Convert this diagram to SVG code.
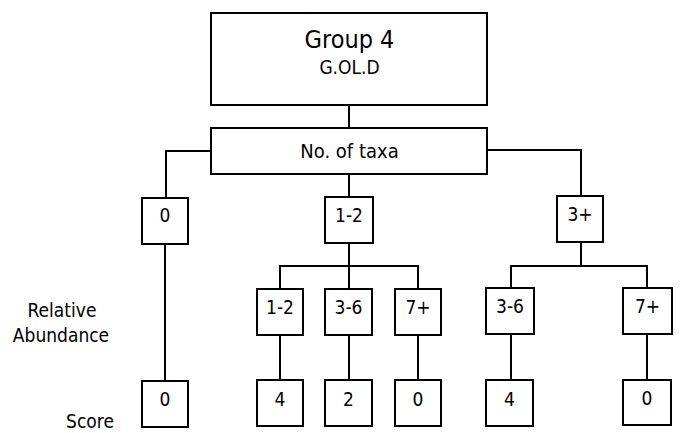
<svg xmlns="http://www.w3.org/2000/svg" width="681" height="433" viewBox="0 0 681 433">
<style>
.b{fill:#fff;stroke:#000;stroke-width:2}
.t{font-family:'DejaVu Sans Condensed','DejaVu Sans',sans-serif;font-stretch:condensed;fill:#000;text-anchor:middle;font-size:19px}
.c{fill:none;stroke:#000;stroke-width:2}
</style>
<rect width="681" height="433" fill="#fff"/>
<g id="connectors">
<path class="c" d="M349,105V128"/>
<path class="c" d="M211,151H166V198"/>
<path class="c" d="M165,244V381"/>
<path class="c" d="M349,174V197"/>
<path class="c" d="M349,243V289M280,289V266H418V289"/>
<path class="c" d="M487,150H581V196"/>
<path class="c" d="M581,242V266M511,288V266H647V288"/>
<path class="c" d="M280,335V380M349,335V380M418,335V380M511,334V380M647,334V380"/>
</g>
<g id="group4"><rect class="b" x="211" y="13" width="276" height="92"/><text class="t" x="349.5" y="48" style="font-size:25px">Group 4</text><text class="t" x="349.5" y="74" style="font-size:19px">G.OL.D</text></g>
<g id="taxa"><rect class="b" x="211" y="128" width="276" height="46"/><text class="t" x="349.5" y="158" style="font-size:20px">No. of taxa</text></g>
<g id="n0"><rect class="b" x="142" y="198" width="46" height="46"/><text class="t" x="165" y="222">0</text></g>
<g id="n12"><rect class="b" x="325" y="197" width="48" height="46"/><text class="t" x="349" y="222">1-2</text></g>
<g id="n3p"><rect class="b" x="557" y="196" width="46" height="46"/><text class="t" x="580" y="221">3+</text></g>
<g id="a12"><rect class="b" x="257" y="289" width="46" height="46"/><text class="t" x="280" y="314">1-2</text></g>
<g id="a36"><rect class="b" x="325" y="289" width="47" height="46"/><text class="t" x="348.5" y="314">3-6</text></g>
<g id="a7p"><rect class="b" x="395" y="289" width="46" height="46"/><text class="t" x="418" y="314">7+</text></g>
<g id="b36"><rect class="b" x="486" y="288" width="48" height="46"/><text class="t" x="510" y="313">3-6</text></g>
<g id="b7p"><rect class="b" x="623" y="288" width="49" height="46"/><text class="t" x="647.5" y="313">7+</text></g>
<g id="s0"><rect class="b" x="142" y="381" width="46" height="46"/><text class="t" x="165" y="406">0</text></g>
<g id="s4"><rect class="b" x="257" y="380" width="46" height="46"/><text class="t" x="280" y="406">4</text></g>
<g id="s2"><rect class="b" x="325" y="380" width="47" height="46"/><text class="t" x="348.5" y="406">2</text></g>
<g id="s0b"><rect class="b" x="395" y="380" width="46" height="46"/><text class="t" x="418" y="406">0</text></g>
<g id="s4b"><rect class="b" x="486" y="380" width="47" height="46"/><text class="t" x="509.5" y="406">4</text></g>
<g id="s0c"><rect class="b" x="623" y="380" width="48" height="45"/><text class="t" x="647" y="405">0</text></g>
<g id="labels">
<text class="t" x="62" y="317">Relative</text>
<text class="t" x="61" y="342">Abundance</text>
<text class="t" x="90" y="428">Score</text>
</g>
</svg>
